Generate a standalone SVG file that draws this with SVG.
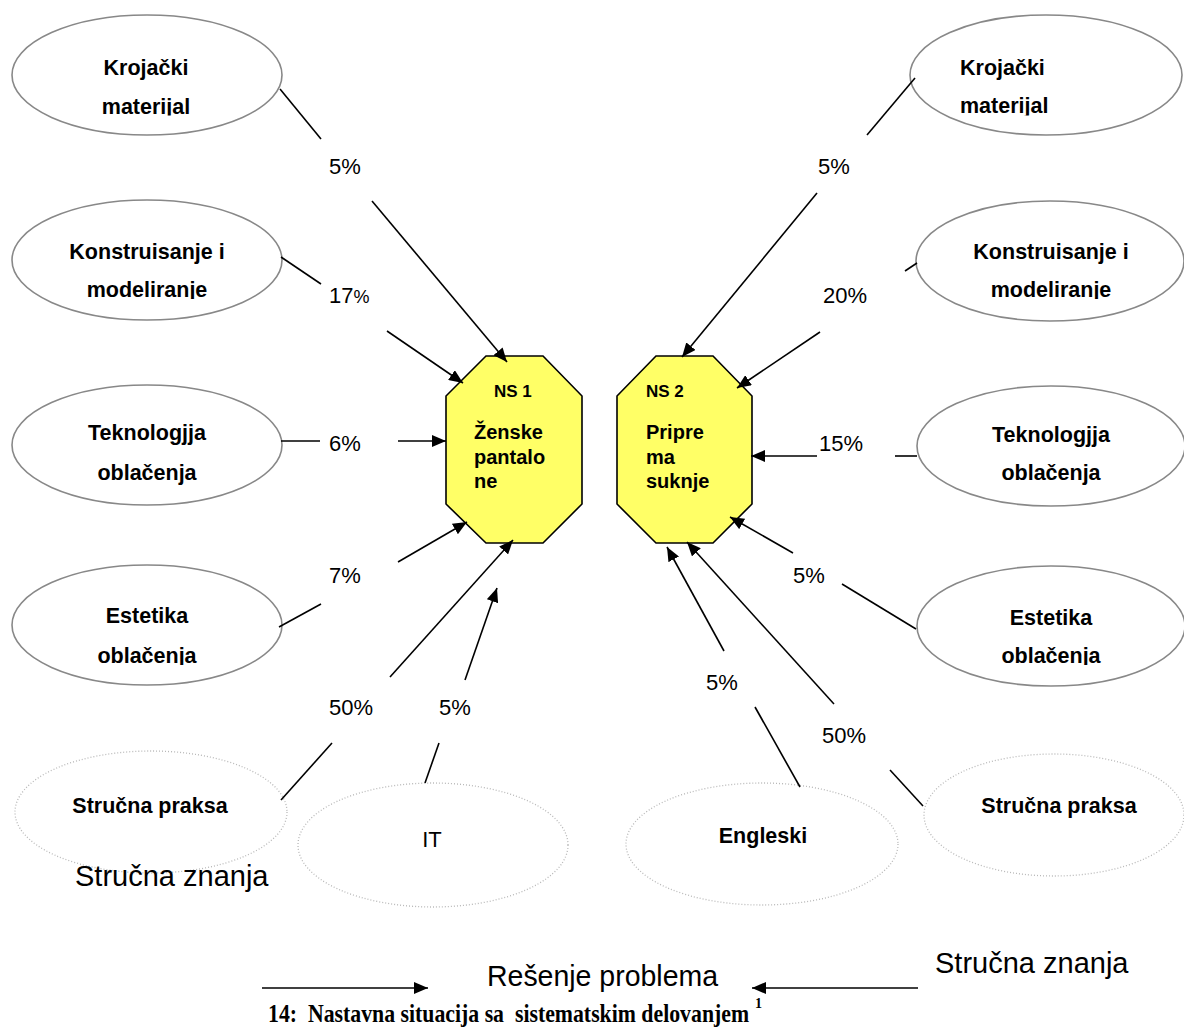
<svg xmlns="http://www.w3.org/2000/svg" width="1184" height="1029" viewBox="0 0 1184 1029">
<style>
.ell{fill:#fff;stroke:#888;stroke-width:1.6}
.dot{fill:#fff;stroke:#b8b8b8;stroke-width:1.3;stroke-dasharray:1 2}
.oct{fill:#ffff66;stroke:#000;stroke-width:1.6}
.lb{font-family:"Liberation Sans",Arial,sans-serif;font-weight:bold;font-size:21.5px;fill:#000}
.ns{font-family:"Liberation Sans",Arial,sans-serif;font-weight:bold;font-size:17px;fill:#000}
.nt{font-family:"Liberation Sans",Arial,sans-serif;font-weight:bold;font-size:20px;fill:#000}
.pc{font-family:"Liberation Sans",Arial,sans-serif;font-size:22px;fill:#000}
.big{font-family:"Liberation Sans",Arial,sans-serif;font-size:29px;fill:#000}
.res{font-family:"Liberation Sans",Arial,sans-serif;font-size:29px;fill:#000}
.cap{font-family:"Liberation Serif","Times New Roman",serif;font-weight:bold;font-size:21.8px;fill:#000}
.sup{font-family:"Liberation Serif","Times New Roman",serif;font-weight:bold;font-size:14px;fill:#000}
.ln{stroke:#000;stroke-width:1.6;fill:none}
</style>
<defs>
<marker id="ah" markerUnits="userSpaceOnUse" markerWidth="15" markerHeight="12" refX="14" refY="6" orient="auto">
<path d="M0,0 L14,6 L0,12 z" fill="#000"/>
</marker>
<clipPath id="c1"><rect x="0" y="0" width="1184" height="115.5"/></clipPath>
<clipPath id="c2"><rect x="0" y="180" width="1184" height="119"/></clipPath>
<clipPath id="c4"><rect x="0" y="560" width="1184" height="105"/></clipPath>
</defs>

<g id="krojacki-left">
<ellipse class="ell" cx="147" cy="75" rx="135" ry="60"/>
<g clip-path="url(#c1)" text-anchor="middle">
<text class="lb" x="146" y="75">Krojački</text>
<text class="lb" x="146" y="114">materijal</text>
</g>
</g>
<g id="konstruisanje-left">
<ellipse class="ell" cx="147" cy="260" rx="135" ry="60"/>
<g clip-path="url(#c2)" text-anchor="middle">
<text class="lb" x="147" y="259">Konstruisanje i</text>
<text class="lb" x="147" y="297">modeliranje</text>
</g>
</g>
<g id="tehnologija-left">
<ellipse class="ell" cx="147" cy="445" rx="135" ry="60"/>
<g text-anchor="middle">
<text class="lb" x="147" y="440">Teknologjja</text>
<text class="lb" x="147" y="480">oblačenja</text>
</g>
</g>
<g id="estetika-left">
<ellipse class="ell" cx="147" cy="625" rx="135" ry="60"/>
<g clip-path="url(#c4)" text-anchor="middle">
<text class="lb" x="147" y="623">Estetika</text>
<text class="lb" x="147" y="663">oblačenja</text>
</g>
</g>
<g id="praksa-left">
<ellipse class="dot" cx="151" cy="812" rx="136" ry="61"/>
<text class="lb" x="150" y="813" text-anchor="middle">Stručna praksa</text>
</g>
<g id="it">
<ellipse class="dot" cx="433" cy="845" rx="135" ry="62"/>
<text class="pc" x="432" y="847" text-anchor="middle">IT</text>
</g>
<g id="engleski">
<ellipse class="dot" cx="762" cy="844" rx="136" ry="61"/>
<text class="lb" x="763" y="843" text-anchor="middle">Engleski</text>
</g>
<g id="praksa-right">
<ellipse class="dot" cx="1054" cy="815" rx="130" ry="61"/>
<text class="lb" x="1059" y="813" text-anchor="middle">Stručna praksa</text>
</g>

<g id="krojacki-right">
<ellipse class="ell" cx="1046" cy="75" rx="136" ry="60"/>
<g clip-path="url(#c1)">
<text class="lb" x="960" y="75">Krojački</text>
<text class="lb" x="960" y="113">materijal</text>
</g>
</g>
<g id="konstruisanje-right">
<ellipse class="ell" cx="1050" cy="261" rx="134" ry="60"/>
<g clip-path="url(#c2)" text-anchor="middle">
<text class="lb" x="1051" y="259">Konstruisanje i</text>
<text class="lb" x="1051" y="297">modeliranje</text>
</g>
</g>
<g id="tehnologija-right">
<ellipse class="ell" cx="1051" cy="446" rx="134" ry="60"/>
<g text-anchor="middle">
<text class="lb" x="1051" y="442">Teknologjja</text>
<text class="lb" x="1051" y="480">oblačenja</text>
</g>
</g>
<g id="estetika-right">
<ellipse class="ell" cx="1051" cy="626" rx="134" ry="60"/>
<g clip-path="url(#c4)" text-anchor="middle">
<text class="lb" x="1051" y="625">Estetika</text>
<text class="lb" x="1051" y="663">oblačenja</text>
</g>
</g>

<g id="ns1">
<polygon class="oct" points="486,356 543,356 582,396 582,504 543,543 486,543 446,504 446,396"/>
<text class="ns" x="494" y="397">NS 1</text>
<text class="nt" x="474" y="439">Ženske</text>
<text class="nt" x="474" y="464">pantalo</text>
<text class="nt" x="474" y="488">ne</text>
</g>
<g id="ns2">
<polygon class="oct" points="656,356 713,356 752,396 752,504 713,543 656,543 617,504 617,396"/>
<text class="ns" x="646" y="397">NS 2</text>
<text class="nt" x="646" y="439">Pripre</text>
<text class="nt" x="646" y="464">ma</text>
<text class="nt" x="646" y="488">suknje</text>
</g>

<g id="connectors">
<line class="ln" x1="280" y1="89" x2="321" y2="139"/>
<line class="ln" x1="372" y1="201" x2="507" y2="362" marker-end="url(#ah)"/>
<line class="ln" x1="281" y1="257" x2="321" y2="284"/>
<line class="ln" x1="387" y1="331" x2="463" y2="383" marker-end="url(#ah)"/>
<line class="ln" x1="281" y1="441" x2="320" y2="441"/>
<line class="ln" x1="398" y1="441" x2="446" y2="441" marker-end="url(#ah)"/>
<line class="ln" x1="279" y1="627" x2="321" y2="604"/>
<line class="ln" x1="398" y1="562" x2="467" y2="522" marker-end="url(#ah)"/>
<line class="ln" x1="281" y1="800" x2="332" y2="743"/>
<line class="ln" x1="390" y1="677" x2="513" y2="540" marker-end="url(#ah)"/>
<line class="ln" x1="425" y1="783" x2="439" y2="743"/>
<line class="ln" x1="465" y1="680" x2="497" y2="588" marker-end="url(#ah)"/>

<line class="ln" x1="915" y1="78" x2="867" y2="135"/>
<line class="ln" x1="817" y1="193" x2="682" y2="357" marker-end="url(#ah)"/>
<line class="ln" x1="917" y1="263" x2="905" y2="271"/>
<line class="ln" x1="820" y1="332" x2="737" y2="388" marker-end="url(#ah)"/>
<line class="ln" x1="917" y1="456" x2="895" y2="456"/>
<line class="ln" x1="817" y1="456" x2="751" y2="456" marker-end="url(#ah)"/>
<line class="ln" x1="916" y1="629" x2="842" y2="584"/>
<line class="ln" x1="793" y1="553" x2="730" y2="517" marker-end="url(#ah)"/>
<line class="ln" x1="800" y1="787" x2="755" y2="707"/>
<line class="ln" x1="724" y1="651" x2="667" y2="547" marker-end="url(#ah)"/>
<line class="ln" x1="923" y1="806" x2="890" y2="770"/>
<line class="ln" x1="834" y1="704" x2="687" y2="542" marker-end="url(#ah)"/>

<line class="ln" x1="262" y1="988" x2="428" y2="988" marker-end="url(#ah)"/>
<line class="ln" x1="918" y1="988" x2="752" y2="988" marker-end="url(#ah)"/>
</g>

<g id="labels">
<text class="pc" x="329" y="174">5%</text>
<text class="pc" x="329" y="303">17<tspan style="font-size:18px">%</tspan></text>
<text class="pc" x="329" y="451">6%</text>
<text class="pc" x="329" y="583">7%</text>
<text class="pc" x="329" y="715">50%</text>
<text class="pc" x="439" y="715">5%</text>
<text class="pc" x="818" y="174">5%</text>
<text class="pc" x="823" y="303">20%</text>
<text class="pc" x="819" y="451">15%</text>
<text class="pc" x="793" y="583">5%</text>
<text class="pc" x="706" y="690">5%</text>
<text class="pc" x="822" y="743">50%</text>
<text class="big" x="75" y="886">Stručna znanja</text>
<text class="big" x="935" y="973">Stručna znanja</text>
<text class="res" x="487" y="986" textLength="231" lengthAdjust="spacingAndGlyphs">Rešenje problema</text>
<text class="cap" transform="translate(268,1022) scale(1,1.2)" x="0" y="0" xml:space="preserve">14:  Nastavna situacija sa  sistematskim delovanjem</text>
<text class="sup" x="755" y="1008">1</text>
</g>
</svg>
